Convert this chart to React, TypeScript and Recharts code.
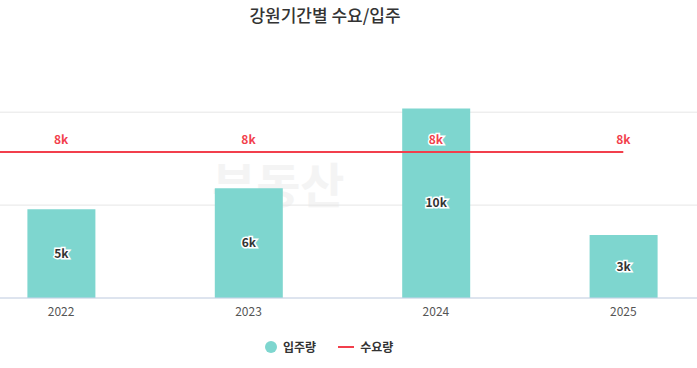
import React from "react";
import { ComposedChart, Bar, Line, XAxis, YAxis, CartesianGrid, LabelList } from "recharts";

const years = ["2021", "2022", "2023", "2024", "2025"];
const supply: (number | null)[] = [null, 4780, 5900, 10200, 3390];
const demand = [7850, 7850, 7850, 7850, 7850];
const shownYears = ["2022", "2023", "2024", "2025"];
const yTicks = [0, 5000, 10000];

const data = years.map((y, i) => ({
  year: y,
  supply: supply[i],
  demand: demand[i],
  demandLabel: shownYears.includes(y) ? demand[i] : null,
}));

const fmt = (v: any) => (v === null || v === undefined ? "" : `${Math.round(Number(v) / 1000)}k`);

const FONT = "'Noto Sans CJK KR', 'Noto Sans', sans-serif";
const TEAL = "#7ed6cf";
const RED = "#f23f4c";

export default function App() {
  return (
    <div style={{ position: "absolute", left: 0, top: 0, width: 697, height: 368, overflow: "hidden", background: "#fff", fontFamily: FONT }}>
      <div style={{ position: "absolute", left: 0, width: 650, top: 3, textAlign: "center", fontSize: 17, color: "#333", fontWeight: 500, lineHeight: "24px" }}>
        강원기간별 수요/입주
      </div>
      <div style={{ position: "absolute", left: 212, top: 158, color: "#f4f4f4", fontSize: 48, fontWeight: 700, lineHeight: "48px" }}>부동산</div>
      <div style={{ position: "absolute", left: -220, top: 0 }}>
        <ComposedChart width={937} height={368} data={data} margin={{ top: 75, right: 0, left: 0, bottom: 40 }}>
          <CartesianGrid vertical={false} stroke="#e6e6e6" horizontalValues={yTicks} />
          <XAxis
            dataKey="year"
            height={30}
            axisLine={{ stroke: "#c8d5ea" }}
            tickLine={false}
            tickFormatter={(v: string) => (shownYears.includes(v) ? v : "")}
            tick={{ fill: "#555", fontSize: 12, fontFamily: FONT }}
            tickMargin={3}
          />
          <YAxis hide domain={[0, 12000]} ticks={yTicks} />
          <Bar dataKey="supply" fill={TEAL} barSize={68} isAnimationActive={false}>
            <LabelList
              dataKey="supply"
              position="center"
              formatter={fmt}
              style={{ fill: "#333", fontSize: 12, fontWeight: 600, fontFamily: FONT, stroke: "#fff", strokeWidth: 3, paintOrder: "stroke" }}
            />
          </Bar>
          <Line dataKey="demand" stroke={RED} strokeWidth={2} dot={false} type="linear" isAnimationActive={false}>
            <LabelList
              dataKey="demandLabel"
              position="top"
              offset={8}
              formatter={fmt}
              style={{ fill: RED, fontSize: 12, fontWeight: 600, fontFamily: FONT, stroke: "#fff", strokeWidth: 3, paintOrder: "stroke" }}
            />
          </Line>
        </ComposedChart>
      </div>
      <div style={{ position: "absolute", left: 265, top: 338, display: "flex", alignItems: "center", fontSize: 12, fontWeight: 700, color: "#333", lineHeight: "18px" }}>
        <span style={{ display: "inline-block", width: 12, height: 12, borderRadius: 6, background: TEAL, marginRight: 6 }} />
        <span>입주량</span>
        <span style={{ display: "inline-block", width: 16, height: 2, background: RED, marginLeft: 22, marginRight: 6 }} />
        <span>수요량</span>
      </div>
    </div>
  );
}
